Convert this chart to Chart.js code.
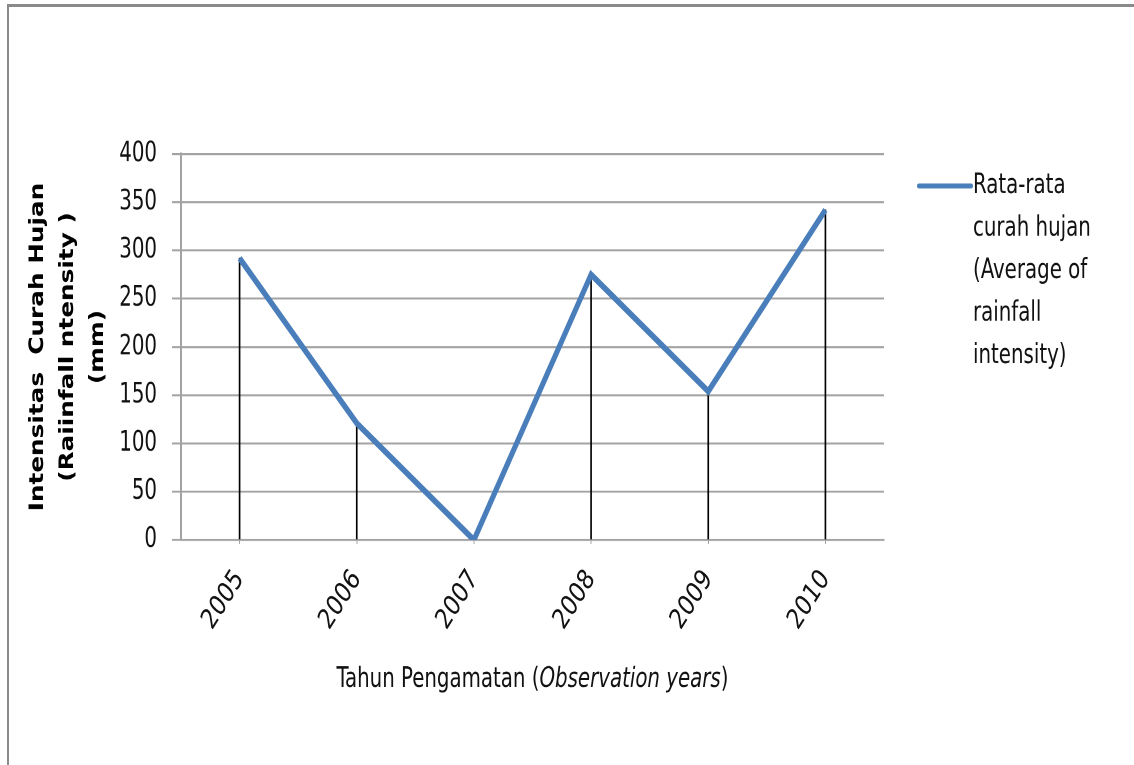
<!DOCTYPE html>
<html>
<head>
<meta charset="utf-8">
<script src="https://cdn.jsdelivr.net/npm/chart.js@4.4.1/dist/chart.umd.min.js"></script>
<style>
  html, body { margin: 0; padding: 0; background: #fff; }
  #wrap { position: relative; width: 1134px; height: 765px; overflow: hidden; }
  /* the original picture is stretched vertically, so the canvas is too */
  #rainChart { display: block; transform: scaleY(1.25); transform-origin: 0 0; }
  #frame { position: absolute; left: 7px; top: 4px; width: 1200px; height: 800px;
           border-top: 3px solid #8a8a8a; border-left: 2px solid #8a8a8a; pointer-events: none; }
</style>
</head>
<body>
<div id="wrap">
  <canvas id="rainChart" width="1134" height="612"></canvas>
  <div id="frame"></div>
</div>
<script>
// data
const years = ['2005', '2006', '2007', '2008', '2009', '2010'];
const rainfall = [292, 121, 0, 275, 154, 342];
const yMin = 0, yMax = 400, yStep = 50;

const seriesLines = ['Rata-rata', 'curah hujan', '(Average of', 'rainfall', 'intensity)'];
const yTitleLines = ['Intensitas  Curah Hujan', '(Raiinfall ntensity )', '(mm)'];
const xTitleParts = [
  { text: 'Tahun Pengamatan (', italic: false },
  { text: 'Observation years', italic: true },
  { text: ')', italic: false }
];

const S = 1.25; // vertical stretch
const NARROW = '"DejaVu Sans Condensed", "Liberation Sans Narrow", sans-serif';
const TXT = 22;
const LINE_BLUE = '#4a7ebb';
const GRID_GRAY = '#a3a3a3';

// legend at the right, text wrapped on several lines
const sideLegend = {
  id: 'sideLegend',
  afterDraw(chart) {
    const ctx = chart.ctx;
    const ds = chart.data.datasets[0];
    const x0 = chart.chartArea.right + 35;
    const y0 = chart.chartArea.top + 32 / S;
    ctx.save();
    ctx.strokeStyle = ds.borderColor;
    ctx.lineWidth = 4;
    ctx.lineCap = 'round';
    ctx.beginPath();
    ctx.moveTo(x0, y0);
    ctx.lineTo(x0 + 52, y0);
    ctx.stroke();
    ctx.fillStyle = '#111';
    ctx.font = TXT + 'px ' + NARROW;
    ctx.textBaseline = 'middle';
    seriesLines.forEach((t, i) => ctx.fillText(t, x0 + 54, y0 + i * 42.5 / S));
    ctx.restore();
  }
};

// x axis title with an italic part
const xTitle = {
  id: 'xTitle',
  afterDraw(chart) {
    const ctx = chart.ctx;
    const area = chart.chartArea;
    ctx.save();
    const fontOf = p => (p.italic ? 'italic ' : '') + TXT + 'px ' + NARROW;
    let total = 0;
    xTitleParts.forEach(p => { ctx.font = fontOf(p); total += ctx.measureText(p.text).width; });
    let x = (area.left + area.right) / 2 - total / 2;
    const y = area.bottom + 140 / S;
    ctx.fillStyle = '#111';
    ctx.textBaseline = 'middle';
    xTitleParts.forEach(p => {
      ctx.font = fontOf(p);
      ctx.fillText(p.text, x, y);
      x += ctx.measureText(p.text).width;
    });
    ctx.restore();
  }
};

const ctx = document.getElementById('rainChart').getContext('2d');
new Chart(ctx, {
  data: {
    labels: years,
    datasets: [
      {
        type: 'line',
        label: seriesLines.join(' '),
        data: rainfall,
        borderColor: LINE_BLUE,
        backgroundColor: LINE_BLUE,
        borderWidth: 5,
        pointRadius: 0,
        tension: 0,
        order: 0
      },
      {
        // drop lines from each point to the axis
        type: 'bar',
        label: 'drop',
        data: rainfall,
        backgroundColor: '#000',
        borderWidth: 0,
        barThickness: 1,
        order: 1
      }
    ]
  },
  options: {
    responsive: false,
    animation: false,
    devicePixelRatio: 2,
    layout: { padding: { left: 0, top: 154 / S, right: 250, bottom: 0 } },
    plugins: {
      legend: { display: false },
      tooltip: { enabled: false }
    },
    scales: {
      x: {
        offset: true,
        grid: { display: true, offset: false, drawOnChartArea: false, drawTicks: true, tickLength: 3, color: GRID_GRAY },
        border: { color: GRID_GRAY, width: 1.6 },
        ticks: {
          color: '#111',
          font: { family: NARROW, size: 23 },
          minRotation: 52,
          maxRotation: 52,
          padding: 16
        },
        afterFit(scale) { scale.height = 225 / S; }
      },
      y: {
        min: yMin,
        max: yMax,
        grid: { color: GRID_GRAY, lineWidth: 1.6, tickLength: 9 },
        border: { color: GRID_GRAY, width: 2 },
        ticks: {
          stepSize: yStep,
          color: '#111',
          font: { family: NARROW, size: TXT },
          padding: 15
        },
        title: {
          display: true,
          text: yTitleLines,
          color: '#000',
          font: { family: '"DejaVu Sans", Verdana, sans-serif', size: 19.8, weight: 'bold', lineHeight: 30 / 19.8 },
          padding: { top: 23, bottom: 0 }
        },
        afterFit(scale) { scale.width = 181; }
      }
    }
  },
  plugins: [sideLegend, xTitle]
});
</script>
</body>
</html>
